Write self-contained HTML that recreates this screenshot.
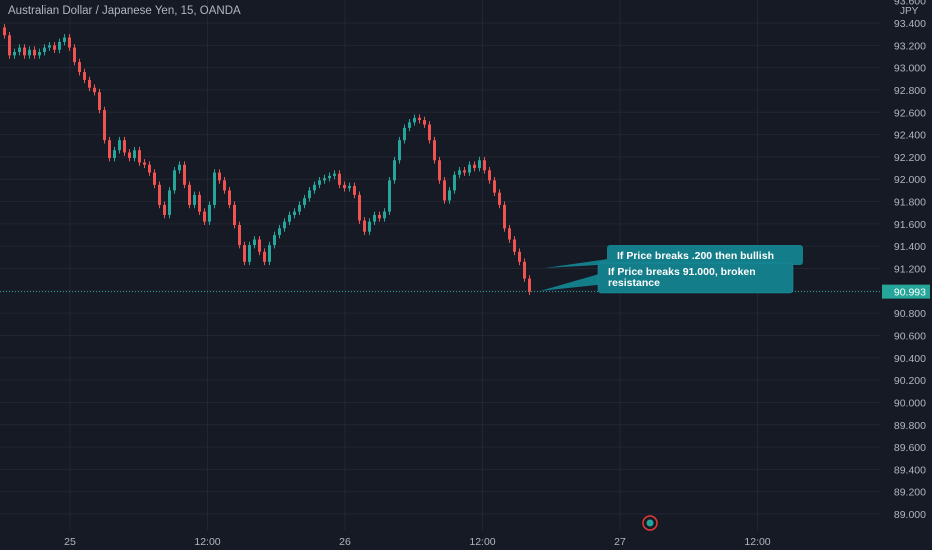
<!DOCTYPE html>
<html><head><meta charset="utf-8"><style>
body{margin:0;background:#161a25;width:932px;height:550px;overflow:hidden;font-family:"Liberation Sans",sans-serif}
svg{display:block}
</style></head><body>
<svg width="932" height="550" id="chart">
<rect width="932" height="550" fill="#161a25"/>
<g id="grid"></g><g id="candles"></g><g id="axis"></g>
<text x="8" y="14" font-size="11.5" fill="#b2b5be">Australian Dollar / Japanese Yen, 15, OANDA</text>
<text x="900" y="14" font-size="10" fill="#b2b5be">JPY</text>
<g>
<polygon points="545,268 615,258 615,264" fill="#137d8a"/>
<rect x="607" y="245" width="196" height="20" rx="3" fill="#137d8a"/>
<text x="617" y="259" font-size="10.5" font-weight="bold" fill="#fff">If Price breaks .200 then bullish</text></g>
<g>
<polygon points="540,291 606,272 606,284" fill="#137d8a"/>
<rect x="598" y="263" width="195" height="30" rx="3" fill="#137d8a" stroke="#1a9aa8" stroke-width="0.5"/>
<text x="608" y="275" font-size="10.5" font-weight="bold" fill="#fff">If Price breaks 91.000, broken</text>
<text x="608" y="286" font-size="10.5" font-weight="bold" fill="#fff">resistance</text></g>
<g><circle cx="650" cy="523" r="7" fill="#161a25" stroke="#e53935" stroke-width="1.5"/><circle cx="650" cy="523" r="3.5" fill="#26a69a"/></g>
</svg>
<script>
const closes=[93.29,93.11,93.14,93.18,93.11,93.16,93.11,93.14,93.18,93.20,93.16,93.23,93.27,93.18,93.05,92.96,92.89,92.82,92.78,92.62,92.35,92.19,92.26,92.35,92.24,92.19,92.26,92.15,92.13,92.06,91.95,91.77,91.68,91.90,92.08,92.13,91.95,91.77,91.86,91.71,91.62,91.77,92.06,91.99,91.90,91.77,91.59,91.41,91.26,91.41,91.46,91.35,91.26,91.41,91.50,91.56,91.62,91.68,91.71,91.77,91.83,91.90,91.95,91.99,92.01,92.03,92.05,91.95,91.92,91.94,91.86,91.63,91.53,91.62,91.68,91.65,91.71,91.99,92.17,92.35,92.46,92.51,92.55,92.53,92.49,92.35,92.17,91.99,91.81,91.90,92.04,92.08,92.06,92.13,92.10,92.17,92.08,91.99,91.88,91.77,91.56,91.46,91.35,91.26,91.11,90.993];
const firstOpen=93.36;
const priceTicks=[93.6,93.4,93.2,93.0,92.8,92.6,92.4,92.2,92.0,91.8,91.6,91.4,91.2,91.0,90.8,90.6,90.4,90.2,90.0,89.8,89.6,89.4,89.2,89.0];
const timeLabels=["25","12:00","26","12:00","27","12:00"];
const timeIdx=[0,1,2,3,4,5];
const lastPrice=90.993;
const NS="http://www.w3.org/2000/svg";
const y=p=>23+(93.4-p)*111.6;
const xc=i=>3+i*5;
const xt=k=>70+k*137.5;
function mk(t,a,parent){const e=document.createElementNS(NS,t);for(const k in a)e.setAttribute(k,a[k]);parent.appendChild(e);return e;}
const grid=document.getElementById('grid'),cg=document.getElementById('candles'),ax=document.getElementById('axis');
priceTicks.forEach(p=>{
 if(p<=93.4){const l=mk('line',{x1:0,x2:880,y1:y(p),y2:y(p),stroke:'#232632','stroke-width':1},grid);
 
 }
 const t=mk('text',{x:926,y:y(p)+4,'font-size':10.5,fill:'#b2b5be','text-anchor':'end'},ax);
 
 
 t.textContent=p.toFixed(3);
});
timeIdx.forEach(k=>{
 const l=mk('line',{x1:xt(k),x2:xt(k),y1:0,y2:530,stroke:'#232632','stroke-width':1},grid);
 
 
 const t=mk('text',{x:xt(k),y:545,'font-size':10.5,fill:'#b2b5be','text-anchor':'middle'},ax);
 
 
 t.textContent=timeLabels[k];
});
const dl=mk('line',{x1:0,x2:880,y1:y(lastPrice),y2:y(lastPrice),stroke:'#26a69a','stroke-width':1,'stroke-dasharray':'1,2'},grid);


closes.forEach((c,i)=>{
 const o=i?closes[i-1]:firstOpen;
 const col=c>=o?'#26a69a':'#ef5350';
 const hi=Math.max(o,c)+0.03,lo=Math.min(o,c)-0.03;
 const w=mk('line',{x1:xc(i)+1.5,x2:xc(i)+1.5,y1:y(hi),y2:y(lo),stroke:col,'stroke-width':1},cg);
 
 
 const b=mk('rect',{x:xc(i),y:y(Math.max(o,c)),width:3,height:Math.max(1,Math.abs(y(o)-y(c))),fill:col},cg);
 
 
});
const pb=mk('rect',{x:882,y:y(lastPrice)-7,width:48,height:14,fill:'#26a69a'},ax);


const pt=mk('text',{x:926,y:y(lastPrice)+4,'font-size':10.5,fill:'#fff','text-anchor':'end'},ax);


pt.textContent=lastPrice.toFixed(3);
</script>
</body></html>
